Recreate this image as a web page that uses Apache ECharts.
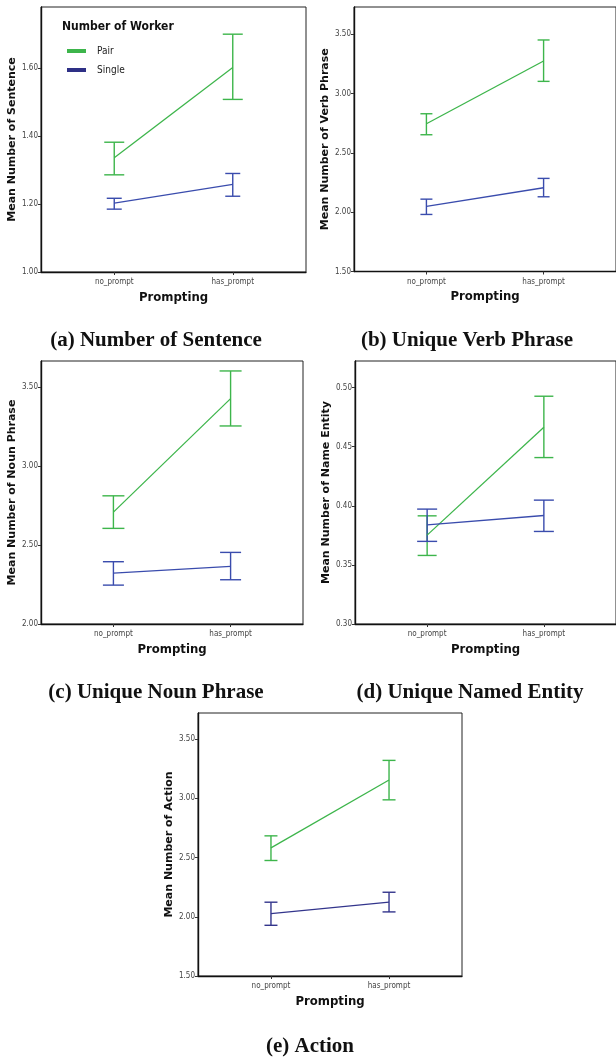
<!DOCTYPE html>
<html>
<head>
<meta charset="utf-8">
<script src="https://cdn.jsdelivr.net/npm/echarts@6/dist/echarts.min.js"></script>
<style>
html,body{margin:0;padding:0;background:#fff;}
#chart{width:616px;height:1059px;}
</style>
</head>
<body>
<div id="chart"></div>
<script>
// ---- data ----
const categories = ['no_prompt', 'has_prompt'];
const groups = ['Pair', 'Single'];

// (a) Number of Sentence
const sentencePairMean = [1.336, 1.602];
const sentencePairLow = [1.286, 1.508];
const sentencePairHigh = [1.382, 1.700];
const sentenceSingleMean = [1.203, 1.258];
const sentenceSingleLow = [1.185, 1.223];
const sentenceSingleHigh = [1.217, 1.290];
const sentenceTicks = [1.00, 1.20, 1.40, 1.60];

// (b) Unique Verb Phrase
const verbPairMean = [2.746, 3.275];
const verbPairLow = [2.653, 3.103];
const verbPairHigh = [2.830, 3.452];
const verbSingleMean = [2.049, 2.206];
const verbSingleLow = [1.981, 2.130];
const verbSingleHigh = [2.110, 2.285];
const verbTicks = [1.50, 2.00, 2.50, 3.00, 3.50];

// (c) Unique Noun Phrase
const nounPairMean = [2.708, 3.426];
const nounPairLow = [2.605, 3.253];
const nounPairHigh = [2.811, 3.601];
const nounSingleMean = [2.322, 2.364];
const nounSingleLow = [2.246, 2.280];
const nounSingleHigh = [2.394, 2.453];
const nounTicks = [2.00, 2.50, 3.00, 3.50];

// (d) Unique Named Entity
const entityPairMean = [0.3752, 0.4665];
const entityPairLow = [0.3580, 0.4408];
const entityPairHigh = [0.3915, 0.4927];
const entitySingleMean = [0.3839, 0.3918];
const entitySingleLow = [0.3699, 0.3783];
const entitySingleHigh = [0.3972, 0.4048];
const entityTicks = [0.30, 0.35, 0.40, 0.45, 0.50];

// (e) Action
const actionPairMean = [2.582, 3.154];
const actionPairLow = [2.475, 2.987];
const actionPairHigh = [2.683, 3.320];
const actionSingleMean = [2.027, 2.123];
const actionSingleLow = [1.928, 2.041];
const actionSingleHigh = [2.123, 2.207];
const actionTicks = [1.50, 2.00, 2.50, 3.00, 3.50];

const yTitles = ['Mean Number of Sentence', 'Mean Number of Verb Phrase', 'Mean Number of Noun Phrase', 'Mean Number of Name Entity', 'Mean Number of Action'];
const captions = ['(a) Number of Sentence', '(b) Unique Verb Phrase', '(c) Unique Noun Phrase', '(d) Unique Named Entity', '(e) Action'];
const xTitle = 'Prompting';
const legendTitle = 'Number of Worker';

// ---- layout / style ----
const GREEN = '#3db54b';
const BLUE = '#3a4cad';
const NAVY = '#33358c';
const NARROW = "'Liberation Sans Narrow', 'DejaVu Sans Condensed', 'Liberation Sans', sans-serif";

const panels = [
  {grid: {left: 41, top: 7, width: 265, height: 265}, yMax: 1.78, ticks: sentenceTicks,
   pair: [sentencePairMean, sentencePairLow, sentencePairHigh], single: [sentenceSingleMean, sentenceSingleLow, sentenceSingleHigh],
   capP: 20, capS: 15, blue: BLUE},
  {grid: {left: 354, top: 7, width: 265, height: 264.5}, yMax: 3.73, ticks: verbTicks,
   pair: [verbPairMean, verbPairLow, verbPairHigh], single: [verbSingleMean, verbSingleLow, verbSingleHigh],
   capP: 12, capS: 12, blue: BLUE},
  {grid: {left: 41, top: 361, width: 262, height: 263}, yMax: 3.664, ticks: nounTicks,
   pair: [nounPairMean, nounPairLow, nounPairHigh], single: [nounSingleMean, nounSingleLow, nounSingleHigh],
   capP: 22, capS: 21, blue: BLUE},
  {grid: {left: 355, top: 361, width: 265, height: 263}, yMax: 0.5225, ticks: entityTicks,
   pair: [entityPairMean, entityPairLow, entityPairHigh], single: [entitySingleMean, entitySingleLow, entitySingleHigh],
   capP: 19, capS: 20, blue: BLUE},
  {grid: {left: 198, top: 713, width: 264, height: 263}, yMax: 3.72, ticks: actionTicks,
   pair: [actionPairMean, actionPairLow, actionPairHigh], single: [actionSingleMean, actionSingleLow, actionSingleHigh],
   capP: 13, capS: 13, blue: NAVY}
];
const captionPos = [[156, 341], [467, 341], [156, 693], [470, 693], [310, 1047]];

function errRender(capW, color) {
  return function (params, api) {
    const x = api.value(0), lo = api.value(1), hi = api.value(2);
    const a = api.coord([x, lo]), b = api.coord([x, hi]);
    const st = {stroke: color, lineWidth: 1.4};
    return {type: 'group', children: [
      {type: 'line', shape: {x1: a[0], y1: a[1], x2: b[0], y2: b[1]}, style: st},
      {type: 'line', shape: {x1: a[0] - capW / 2, y1: a[1], x2: a[0] + capW / 2, y2: a[1]}, style: st},
      {type: 'line', shape: {x1: b[0] - capW / 2, y1: b[1], x2: b[0] + capW / 2, y2: b[1]}, style: st}
    ]};
  };
}

const grids = [], xAxes = [], yAxes = [], series = [], graphics = [];
panels.forEach((p, i) => {
  grids.push(Object.assign({show: true, borderColor: '#222', borderWidth: 1, backgroundColor: 'transparent'}, p.grid));
  xAxes.push({
    type: 'value', gridIndex: i, min: -0.618, max: 1.618,
    name: xTitle, nameLocation: 'middle', nameGap: 19,
    nameTextStyle: {fontFamily: NARROW, fontWeight: 'bold', fontSize: 13, color: '#111'},
    axisLine: {show: true, onZero: false, lineStyle: {color: '#111', width: 1.4}},
    axisTick: {show: true, customValues: [0, 1], length: 3, lineStyle: {color: '#333'}},
    axisLabel: {customValues: [0, 1], formatter: v => categories[Math.round(v)], fontFamily: NARROW, fontSize: 8, color: '#444', margin: 6},
    splitLine: {show: false}
  });
  yAxes.push({
    type: 'value', gridIndex: i, min: p.ticks[0], max: p.yMax,
    name: yTitles[i], nameLocation: 'middle', nameGap: 21, nameRotate: 90,
    nameTextStyle: {fontFamily: "'DejaVu Sans', sans-serif", fontWeight: 'bold', fontSize: 11, color: '#111'},
    axisLine: {show: true, onZero: false, lineStyle: {color: '#111', width: 1.4}},
    axisTick: {show: true, customValues: p.ticks, length: 3, lineStyle: {color: '#333'}},
    axisLabel: {customValues: p.ticks, formatter: v => v.toFixed(2), fontFamily: NARROW, fontSize: 8, color: '#444', margin: 3},
    splitLine: {show: false}
  });
  [[groups[0], p.pair, GREEN, p.capP], [groups[1], p.single, p.blue, p.capS]].forEach(([name, arr, color, cap]) => {
    const [mean, low, high] = arr;
    series.push({
      type: 'line', name: name, xAxisIndex: i, yAxisIndex: i,
      data: categories.map((c, k) => [k, mean[k]]),
      symbol: 'none', lineStyle: {color: color, width: 1.3}, itemStyle: {color: color},
      silent: true, animation: false
    });
    series.push({
      type: 'custom', name: name, xAxisIndex: i, yAxisIndex: i,
      data: categories.map((c, k) => [k, low[k], high[k]]),
      renderItem: errRender(cap, color), itemStyle: {color: color},
      silent: true, animation: false
    });
  });
  graphics.push({
    type: 'text', x: captionPos[i][0], y: captionPos[i][1],
    style: {text: captions[i], x: 0, y: 0, align: 'center', verticalAlign: 'middle',
            font: "bold 21px 'Liberation Serif', 'Times New Roman', serif", fill: '#111'}
  });
});
graphics.push({
  type: 'text', x: 62, y: 27,
  style: {text: legendTitle, align: 'left', verticalAlign: 'middle', font: "bold 12px " + NARROW, fill: '#111'}
});

const chart = echarts.init(document.getElementById('chart'), null, {renderer: 'canvas'});
chart.setOption({
  animation: false,
  grid: grids, xAxis: xAxes, yAxis: yAxes, series: series, graphic: graphics,
  legend: {
    show: true, orient: 'vertical', left: 62, top: 41, itemWidth: 19, itemHeight: 4, itemGap: 9,
    selectedMode: false,
    data: [
      {name: groups[0], icon: 'rect', itemStyle: {color: GREEN}},
      {name: groups[1], icon: 'rect', itemStyle: {color: '#2e3086'}}
    ],
    textStyle: {fontFamily: NARROW, fontSize: 10, color: '#222', padding: [0, 0, 0, 6]}
  }
});
</script>
</body>
</html>
